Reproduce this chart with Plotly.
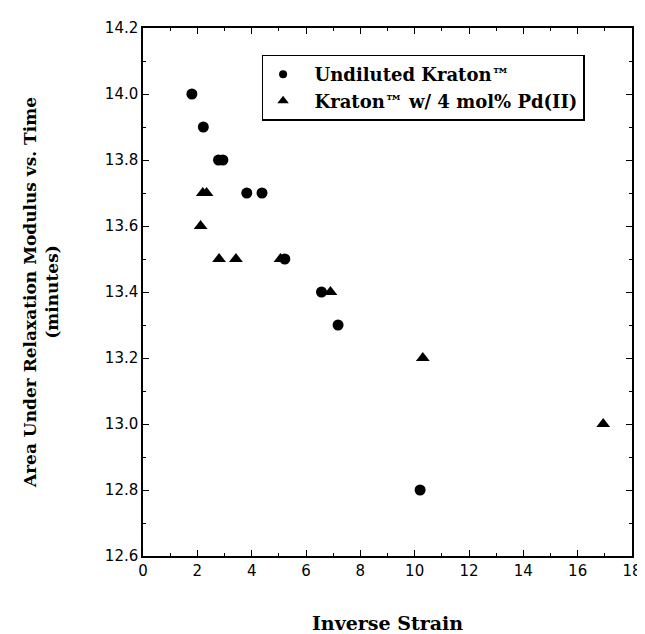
import plotly.graph_objects as go

# Data
undiluted_x = [1.8, 2.22, 2.78, 2.94, 3.82, 4.38, 5.22, 6.57, 7.18, 10.2]
undiluted_y = [14.0, 13.9, 13.8, 13.8, 13.7, 13.7, 13.5, 13.4, 13.3, 12.8]

pd_x = [2.12, 2.2, 2.34, 2.8, 3.42, 5.06, 6.9, 10.3, 16.94]
pd_y = [13.6, 13.7, 13.7, 13.5, 13.5, 13.5, 13.4, 13.2, 13.0]

series_names = ["Undiluted Kraton™", "Kraton™ w/ 4 mol% Pd(II)"]

x_ticks = [0, 2, 4, 6, 8, 10, 12, 14, 16, 18]
y_ticks = [12.6, 12.8, 13.0, 13.2, 13.4, 13.6, 13.8, 14.0, 14.2]
y_labels = ["12.6", "12.8", "13.0", "13.2", "13.4", "13.6", "13.8", "14.0", "14.2"]

serif = "DejaVu Serif, Liberation Serif, serif"
sans = "DejaVu Sans, Verdana, sans-serif"
NB = "\u00a0\u00a0"

fig = go.Figure()
fig.add_trace(go.Scatter(
    x=undiluted_x, y=undiluted_y, mode="markers", showlegend=False,
    name=series_names[0],
    marker=dict(symbol="circle", size=11, color="black"),
))
fig.add_trace(go.Scatter(
    x=pd_x, y=pd_y, mode="markers", showlegend=False,
    name=series_names[1],
    marker=dict(symbol="triangle-up", size=12, color="black"),
))
# legend entries with smaller symbols, as in the reference
fig.add_trace(go.Scatter(
    x=[None], y=[None], mode="markers",
    name=NB + "<b>" + series_names[0] + "</b>",
    marker=dict(symbol="circle", size=8, color="black"),
))
fig.add_trace(go.Scatter(
    x=[None], y=[None], mode="markers",
    name=NB + "<b>" + series_names[1] + "</b>",
    marker=dict(symbol="triangle-up", size=10, color="black"),
))

fig.update_layout(
    width=645, height=634,
    margin=dict(l=135, r=11, t=17, b=81),
    paper_bgcolor="white", plot_bgcolor="white",
    showlegend=True,
    legend=dict(
        x=0.2425, y=0.8246, xanchor="left", yanchor="bottom",
        bordercolor="black", borderwidth=1.5, bgcolor="white",
        font=dict(family=serif, size=18, color="black"),
        itemwidth=30, tracegroupgap=0,
    ),
    xaxis=dict(
        range=[0, 18], tickvals=x_ticks,
        ticks="inside", ticklen=6, tickwidth=1, tickcolor="black",
        minor=dict(dtick=1, ticks="inside", ticklen=3, tickcolor="black"),
        showline=True, linecolor="black", linewidth=1.5, mirror="ticks",
        showgrid=False, zeroline=False,
        tickfont=dict(family=sans, size=15, color="black"),
        title=dict(text="<b>Inverse Strain</b>", font=dict(family=serif, size=19, color="black"), standoff=38),
    ),
    yaxis=dict(
        range=[12.6, 14.2], tickvals=y_ticks, ticktext=y_labels,
        ticks="inside", ticklen=6, tickwidth=1, tickcolor="black",
        minor=dict(dtick=0.1, ticks="inside", ticklen=3, tickcolor="black"),
        showline=True, linecolor="black", linewidth=1.5, mirror="ticks",
        showgrid=False, zeroline=False,
        tickfont=dict(family=sans, size=15, color="black"),
        title=dict(text="<b>Area Under Relaxation Modulus vs. Time<br>(minutes)</b>",
                   font=dict(family=serif, size=17, color="black"), standoff=42),
    ),
)

fig.write_html("out.html")
